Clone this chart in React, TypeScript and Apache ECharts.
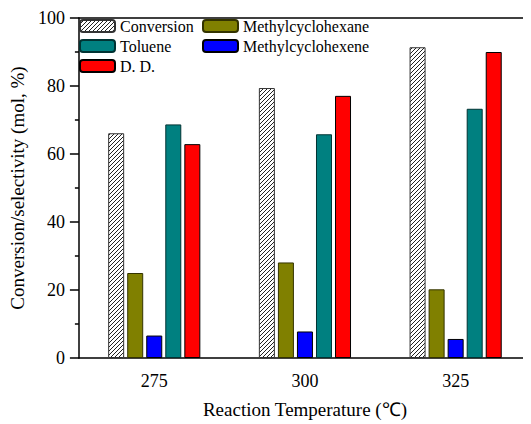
import React, { useEffect, useRef } from "react";
import * as echarts from "echarts";

const categories = ["275", "300", "325"];
const conversion = [66.1, 79.4, 91.4];
const methylcyclohexane = [25.0, 28.1, 20.2];
const methylcyclohexene = [6.6, 7.8, 5.6];
const toluene = [68.7, 65.8, 73.3];
const dd = [62.9, 77.1, 90.0];
const yTicks = [0, 20, 40, 60, 80, 100];

const FONT = "Liberation Serif";

function makeHatch(): HTMLCanvasElement {
  const c = document.createElement("canvas");
  const s = 4;
  c.width = s;
  c.height = s;
  const ctx = c.getContext("2d")!;
  ctx.fillStyle = "#ffffff";
  ctx.fillRect(0, 0, s, s);
  ctx.strokeStyle = "#222222";
  ctx.lineWidth = 1;
  ctx.beginPath();
  ctx.moveTo(-1, s + 1);
  ctx.lineTo(s + 1, -1);
  ctx.moveTo(-1, 1);
  ctx.lineTo(1, -1);
  ctx.moveTo(s - 1, s + 1);
  ctx.lineTo(s + 1, s - 1);
  ctx.stroke();
  return c;
}

export default function App() {
  const ref = useRef<HTMLDivElement>(null);
  useEffect(() => {
    if (!ref.current) return;
    const chart = echarts.init(ref.current, undefined, { renderer: "svg" });
    const hatch = { image: makeHatch(), repeat: "repeat" } as any;
    const mkBar = (name: string, data: number[], color: any, border = "#000") => ({
      name,
      type: "bar",
      data,
      barWidth: 16,
      barGap: "19%",
      itemStyle: { color, borderColor: border, borderWidth: 1 },
    });
    const legendBase = {
      itemWidth: 35,
      itemHeight: 12,
      padding: 0,
      textStyle: { fontFamily: FONT, fontSize: 16, color: "#000" },
    };
    chart.setOption({
      animation: false,
      backgroundColor: "#fff",
      grid: { left: 76, top: 18, width: 456, height: 344 },
      legend: [
        { ...legendBase, data: ["Conversion"], left: 79, top: 18 },
        { ...legendBase, data: ["Methylcyclohexane"], left: 202, top: 18 },
        { ...legendBase, data: ["Toluene"], left: 79, top: 38 },
        { ...legendBase, data: ["Methylcyclohexene"], left: 202, top: 38 },
        { ...legendBase, data: ["D. D."], left: 79, top: 58 },
      ],
      xAxis: [
        {
          type: "category",
          data: categories,
          boundaryGap: true,
          name: "Reaction Temperature (℃)",
          nameLocation: "middle",
          nameGap: 42,
          nameTextStyle: { fontFamily: FONT, fontSize: 19, color: "#000" },
          axisLine: { lineStyle: { color: "#000", width: 1.5 } },
          axisTick: { alignWithLabel: true, length: 8, lineStyle: { color: "#000", width: 1.5 } },
          axisLabel: { fontFamily: FONT, fontSize: 18, color: "#000", margin: 14 },
        },
        {
          type: "category",
          data: categories,
          position: "top",
          axisLine: { lineStyle: { color: "#000", width: 1.5 } },
          axisTick: { show: false },
          axisLabel: { show: false },
        },
      ],
      yAxis: {
        type: "value",
        min: 0,
        max: 100,
        interval: 20,
        name: "Conversion/selectivity (mol, %)",
        nameLocation: "middle",
        nameGap: 44,
        nameTextStyle: { fontFamily: FONT, fontSize: 19, color: "#000" },
        axisLine: { show: true, lineStyle: { color: "#000", width: 1.5 } },
        axisTick: { show: true, length: 9, lineStyle: { color: "#000", width: 1.5 } },
        minorTick: { show: true, splitNumber: 2, length: 4, lineStyle: { color: "#000", width: 1.5 } },
        splitLine: { show: false },
        axisLabel: {
          fontFamily: FONT,
          fontSize: 18,
          color: "#000",
          margin: 14,
          formatter: (v: number) => (yTicks.includes(v) ? String(v) : ""),
        },
      },
      series: [
        mkBar("Conversion", conversion, hatch, "#333"),
        mkBar("Methylcyclohexane", methylcyclohexane, "#808000", "#333300"),
        mkBar("Methylcyclohexene", methylcyclohexene, "#0000ff", "#000"),
        mkBar("Toluene", toluene, "#008080", "#033"),
        mkBar("D. D.", dd, "#ff0000", "#000"),
      ],
    });
    return () => chart.dispose();
  }, []);
  return <div ref={ref} style={{ width: 531, height: 424, margin: "-8px 0 0 -8px" }} />;
}
